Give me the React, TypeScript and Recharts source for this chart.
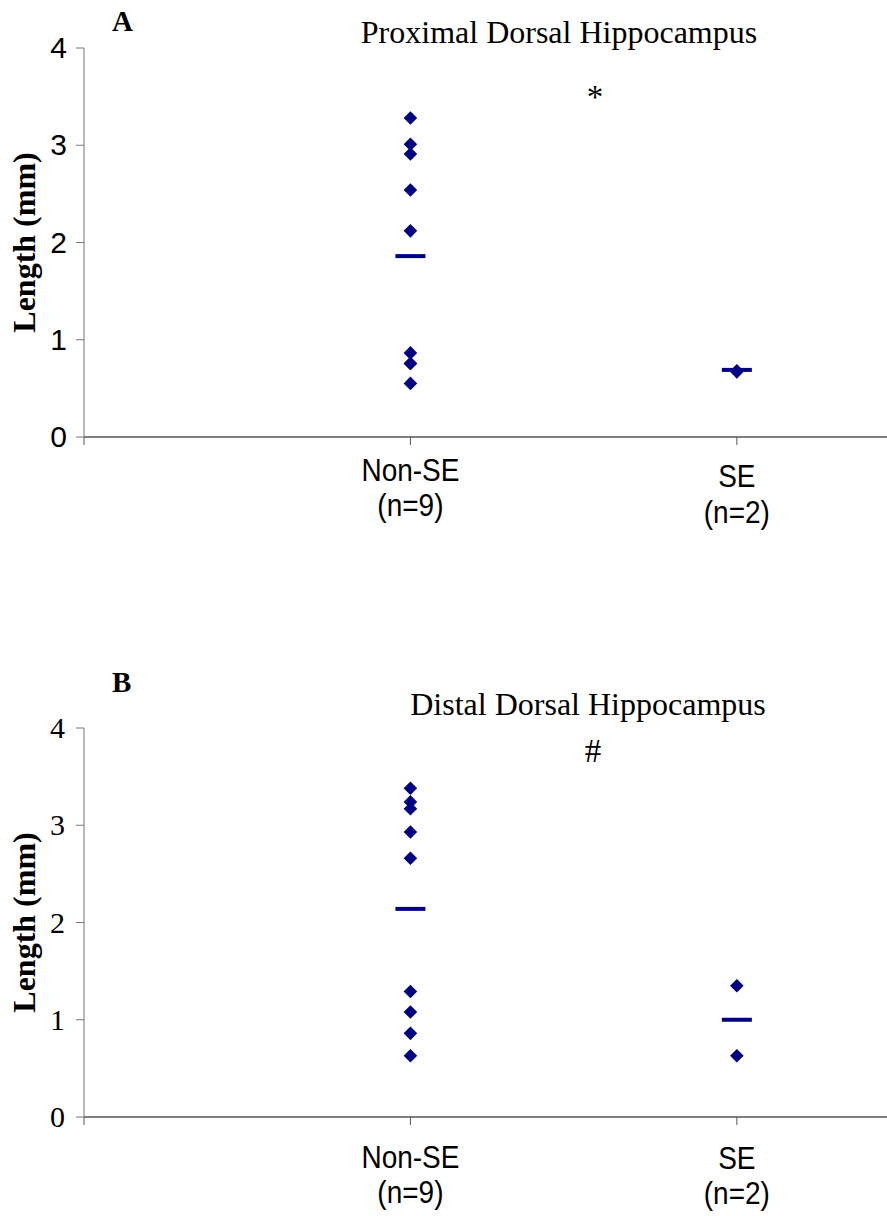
import React from 'react';
import { ScatterChart, Scatter, XAxis, YAxis } from 'recharts';

const categoryTicks = [0, 1, 2];
const categoryNames = ['', 'Non-SE', 'SE'];
const groupSizes = ['', '(n=9)', '(n=2)'];
const lengthTicks = [0, 1, 2, 3, 4];

// A: proximal dorsal hippocampus
const proximalNonSE = [3.28, 3.01, 2.91, 2.54, 2.12, 0.865, 0.756, 0.756, 0.551];
const proximalSE = [0.68, 0.67];
const proximalMeans = [1.86, 0.69];

// B: distal dorsal hippocampus
const distalNonSE = [3.38, 3.24, 3.17, 2.93, 2.66, 1.29, 1.08, 0.86, 0.63];
const distalSE = [1.35, 0.63];
const distalMeans = [2.14, 1.0];

const NAVY = '#000080';
const SERIF = '"Liberation Serif", "Times New Roman", serif';
const SANS = '"Liberation Sans", Arial, sans-serif';

const toPoints = (nonSE: number[], se: number[]) => [
  ...nonSE.map((y) => ({ x: 1, y })),
  ...se.map((y) => ({ x: 2, y })),
];
const toMeans = (means: number[]) => means.map((y, i) => ({ x: i + 1, y }));

const Diamond = (props: any) => {
  const { cx, cy } = props;
  const r = 6.8;
  return (
    <polygon
      points={`${cx},${cy - r} ${cx + r},${cy} ${cx},${cy + r} ${cx - r},${cy}`}
      fill={NAVY}
    />
  );
};

const MeanBar = (props: any) => {
  const { cx, cy } = props;
  return <rect x={cx - 15} y={cy - 2} width={30} height={4} fill={NAVY} />;
};

interface PanelProps {
  letter: string;
  title: string;
  mark: string;
  points: { x: number; y: number }[];
  means: { x: number; y: number }[];
  height: number;
  plotTop: number;
  plotBottom: number;
  tickFont: string;
  tickRight: number;
  rowOffsets: number[][];
  letterY: number;
  titleX: number;
  titleY: number;
  markX: number;
  markY: number;
}

const Panel: React.FC<PanelProps> = ({
  letter,
  title,
  mark,
  points,
  means,
  height,
  plotTop,
  plotBottom,
  tickFont,
  tickRight,
  rowOffsets,
  letterY,
  titleX,
  titleY,
  markX,
  markY,
}) => {
  // two-line category label, slightly stretched vertically like the original
  const CategoryTick = (props: any) => {
    const { x, payload } = props;
    const i = categoryTicks.indexOf(payload.value);
    if (i <= 0) return null;
    const [a, b] = rowOffsets[i];
    const line = (text: string, base: number) => (
      <text
        x={0}
        y={0}
        transform={`translate(${x}, ${plotBottom + base}) scale(1, 1.1)`}
        textAnchor='middle'
        fontSize={28}
        fontFamily={SANS}
        fill='#000'
      >
        {text}
      </text>
    );
    return (
      <g>
        {line(categoryNames[i], a)}
        {line(groupSizes[i], b)}
      </g>
    );
  };

  const LengthTick = (props: any) => {
    const { y, payload } = props;
    return (
      <text x={tickRight} y={y + 10} textAnchor='end' fontSize={30} fontFamily={tickFont} fill='#000'>
        {payload.value}
      </text>
    );
  };

  const AxisTitle = (props: any) => {
    const { viewBox } = props;
    const cy = viewBox.y + viewBox.height / 2;
    return (
      <text
        x={35}
        y={cy}
        transform={`rotate(-90, 35, ${cy})`}
        textAnchor='middle'
        fontSize={32}
        fontWeight='bold'
        fontFamily={SERIF}
        fill='#000'
      >
        Length (mm)
      </text>
    );
  };

  return (
    <div style={{ position: 'relative', width: 887, height }}>
      <ScatterChart
        width={887}
        height={height}
        margin={{ top: plotTop, right: 0, left: 0, bottom: 0 }}
      >
        <XAxis
          type='number'
          dataKey='x'
          domain={[0, 2.46]}
          allowDataOverflow
          ticks={categoryTicks}
          interval={0}
          height={height - plotBottom}
          tickSize={8}
          axisLine={{ stroke: '#808080', strokeWidth: 2 }}
          tickLine={{ stroke: '#555' }}
          tick={<CategoryTick />}
        />
        <YAxis
          type='number'
          dataKey='y'
          domain={[0, 4]}
          ticks={lengthTicks}
          interval={0}
          width={84}
          tickSize={8}
          axisLine={{ stroke: '#777' }}
          tickLine={{ stroke: '#777' }}
          tick={<LengthTick />}
          label={{ content: <AxisTitle /> }}
        />
        <Scatter data={points} shape={<Diamond />} isAnimationActive={false} />
        <Scatter data={means} shape={<MeanBar />} isAnimationActive={false} />
      </ScatterChart>
      <div
        style={{
          position: 'absolute',
          left: 112,
          top: letterY - 25,
          fontFamily: SERIF,
          fontWeight: 'bold',
          fontSize: 29,
          lineHeight: '29px',
        }}
      >
        {letter}
      </div>
      <div
        style={{
          position: 'absolute',
          left: titleX - 250,
          width: 500,
          top: titleY - 27,
          textAlign: 'center',
          fontFamily: SERIF,
          fontSize: 32,
          lineHeight: '32px',
        }}
      >
        {title}
      </div>
      <div
        style={{
          position: 'absolute',
          left: markX - 20,
          width: 40,
          top: markY - 28,
          textAlign: 'center',
          fontFamily: SERIF,
          fontSize: 33,
          lineHeight: '33px',
        }}
      >
        {mark}
      </div>
    </div>
  );
};

export default function App() {
  return (
    <div style={{ position: 'absolute', left: 0, top: 0, width: 887, height: 1216, background: '#fff' }}>
      <Panel
        letter='A'
        title='Proximal Dorsal Hippocampus'
        mark='*'
        points={toPoints(proximalNonSE, proximalSE)}
        means={toMeans(proximalMeans)}
        height={600}
        plotTop={48}
        plotBottom={437}
        tickFont={SANS}
        tickRight={67}
        rowOffsets={[[0, 0], [44, 79], [50, 86]]}
        letterY={32}
        titleX={559}
        titleY={43}
        markX={595}
        markY={109}
      />
      <Panel
        letter='B'
        title='Distal Dorsal Hippocampus'
        mark='#'
        points={toPoints(distalNonSE, distalSE)}
        means={toMeans(distalMeans)}
        height={616}
        plotTop={128}
        plotBottom={517}
        tickFont={SERIF}
        tickRight={65}
        rowOffsets={[[0, 0], [51, 86], [52, 87]]}
        letterY={93}
        titleX={588}
        titleY={115}
        markX={593}
        markY={163}
      />
    </div>
  );
}
